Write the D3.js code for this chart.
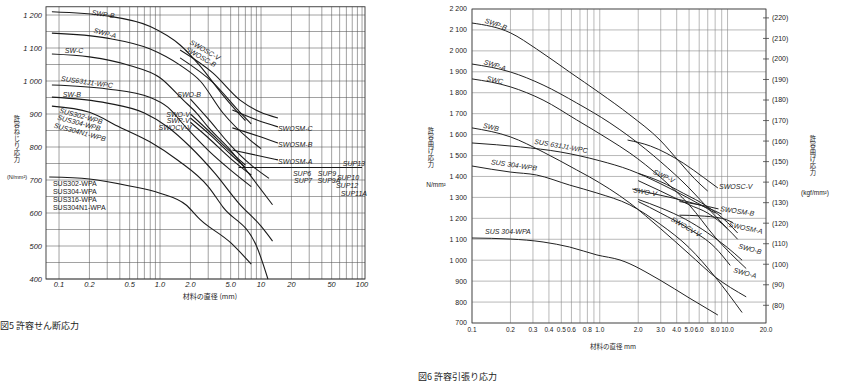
<!DOCTYPE html>
<html>
  <head>
    <meta charset="utf-8">
    <style>
      body { margin: 0; background: #fff; }
      text { font-family: "Liberation Sans", Arial, sans-serif; fill: #222; }
      .jp { font-family: "Noto Sans CJK JP", sans-serif; }
      .vt { font-family: "Noto Sans CJK JP", sans-serif; writing-mode: vertical-rl; letter-spacing: 0.6px; }
      .grid5 line { stroke: #555; stroke-width: 0.55; }
      .grid6 line { stroke: #8a8a8a; stroke-width: 0.6; }
      .curve5 path { fill: none; stroke: #1a1a1a; stroke-width: 1.1; }
      .curve6 path { fill: none; stroke: #222; stroke-width: 1; }
      .lbl { font-style: italic; font-size: 7px; }
    </style>
  </head>
  <body>
    <svg width="843" height="382"></svg>
    <script src="https://d3js.org/d3.v7.min.js"></script>
    <script>
      var svg = d3.select("svg");

      // ---------- 図5 許容せん断応力 (N/mm2 vs diameter mm) ----------
      var shearYTicks = [400, 500, 600, 700, 800, 900, 1000, 1100, 1200];
      var shearYLabels = ["400", "500", "600", "700", "800", "900", "1 000", "1 100", "1 200"];
      var shearXTicks = [0.1, 0.2, 0.5, 1, 2, 5, 10, 20, 50, 100];
      var shearXLabels = ["0.1", "0.2", "0.5", "1.0", "2.0", "5.0", "10", "20", "50", "100"];

      var shearSWPB = [[0.085, 1210], [0.3, 1197], [0.8, 1165], [1.58, 1109], [2.5, 1045], [4, 965], [5.5, 915], [7, 880]];
      var shearSWPA = [[0.085, 1145], [0.3, 1130], [0.8, 1097], [1.58, 1048], [2.5, 1000], [4.2, 903], [7.8, 821], [10, 795]];
      var shearSWC = [[0.085, 1082], [0.2, 1073], [0.5, 1047], [1, 1010], [1.7, 942], [2.3, 903], [3, 860], [5, 790], [8, 710], [13, 625]];
      var shearSUS631 = [[0.085, 988], [0.3, 976], [0.8, 950], [1.2, 920], [1.8, 860], [3, 790], [5, 730], [8, 680]];
      var shearSWB = [[0.085, 951], [0.3, 933], [0.7, 903], [1.2, 860], [2, 800], [3.5, 720], [6, 630], [10, 560], [13, 515]];
      var shearSUSWPB = [[0.085, 924], [0.2, 905], [0.4, 860], [0.8, 815], [1.5, 760], [3, 680], [4.2, 618], [9.1, 497], [11.7, 400]];
      var shearSUSWPA = [[0.08, 709], [0.2, 703], [0.5, 682], [1, 660], [1.8, 625], [2.5, 580], [5, 510], [8, 445]];
      var shearSWOSCV = [[1.58, 1094], [3.35, 1024], [6.2, 942], [9.8, 906], [14.7, 888]];
      var shearSWOSCB = [[1.58, 1070], [3.35, 995], [6.2, 905], [8, 870]];
      var shearSWOSMC = [[5.2, 912], [9.1, 882], [14.7, 861]];
      var shearSWOSMB = [[5.2, 858], [9, 835], [14.7, 812]];
      var shearSWOSMA = [[5.2, 791], [9, 775], [14.7, 761]];
      var shearSWOB = [[2, 945], [3, 885], [5, 805], [8, 745], [12, 705]];
      var shearSWOV = [[2, 900], [3, 850], [5, 785], [7, 745]];
      var shearSWPV = [[2, 888], [3, 842], [5, 778], [7, 738]];
      var shearSWOCVV = [[2, 875], [3, 828], [5, 765], [8, 715]];
      var shearSUP = [[6, 738], [100, 738]];

      var shearSeries = [shearSWPB, shearSWPA, shearSWC, shearSUS631, shearSWB, shearSUSWPB, shearSUSWPA,
        shearSWOSCV, shearSWOSCB, shearSWOSMC, shearSWOSMB, shearSWOSMA, shearSWOB, shearSWOV, shearSWPV,
        shearSWOCVV, shearSUP];

      // label text, diameter, stress, rotation
      var shearLabels = [
        ["SWP-B", 0.273, 1203, 8], ["SWP-A", 0.285, 1145, 15], ["SW-C", 0.141, 1091, 0],
        ["SUS631J1-WPC", 0.189, 997, 8], ["SW-B", 0.134, 958, 0],
        ["SUS302-WPB", 0.165, 894, 15], ["SUS304-WPB", 0.158, 873, 15], ["SUS304N1-WPB", 0.161, 845, 15],
        ["SWOSC-V", 2.79, 1094, 30], ["SWOSC-B", 2.54, 1073, 30], ["SWO-B", 1.94, 958, 0],
        ["SWO-V", 1.51, 897, 0], ["SWP-V", 1.51, 879, 0], ["SWOCV-V", 1.41, 858, 0],
        ["SWOSM-C", 21.8, 855, 0], ["SWOSM-B", 21.8, 806, 0], ["SWOSM-A", 21.8, 755, 0],
        ["SUP6", 25.5, 721, 0], ["SUP7", 26.1, 697, 0], ["SUP9", 45, 721, 0], ["SUP9A", 47, 697, 0],
        ["SUP13", 83, 750, 0], ["SUP10", 72.6, 706, 0], ["SUP12", 71, 682, 0], ["SUP11A", 83, 658, 0]
      ];
      var shearWPALines = ["SUS302-WPA", "SUS304-WPA", "SUS316-WPA", "SUS304N1-WPA"];
      var shearWPAStress = [688, 664, 642, 618];

      var x5 = d3.scaleLog().domain([0.0743, 107]).range([46, 365]);
      var y5 = d3.scaleLinear().domain([400, 1225]).range([279, 6.75]);

      var gridX5 = [];
      [0.1, 1, 10].forEach(function(b) { for (var k = 1; k < 10; k++) gridX5.push(k * b); });
      gridX5.push(100);
      var gridY5 = d3.range(400, 1201, 50);

      var g5 = svg.append("g");
      var grid5 = g5.append("g").attr("class", "grid5");
      grid5.selectAll("line.v").data(gridX5).enter().append("line")
        .attr("x1", function(d) { return x5(d); }).attr("x2", function(d) { return x5(d); })
        .attr("y1", y5(1225)).attr("y2", y5(400));
      grid5.selectAll("line.h").data(gridY5).enter().append("line")
        .attr("x1", x5.range()[0]).attr("x2", x5.range()[1])
        .attr("y1", function(d) { return y5(d); }).attr("y2", function(d) { return y5(d); });
      g5.append("rect")
        .attr("x", 46).attr("y", y5(1225)).attr("width", 319).attr("height", y5(400) - y5(1225))
        .attr("fill", "none").attr("stroke", "#333").attr("stroke-width", 0.9);

      g5.selectAll("text.yt").data(shearYTicks).enter().append("text")
        .attr("x", 42).attr("y", function(d) { return y5(d); }).attr("dy", "0.35em")
        .attr("text-anchor", "end").attr("font-size", 7.5).attr("font-style", "italic")
        .text(function(d, i) { return shearYLabels[i]; });
      g5.selectAll("text.xt").data(shearXTicks).enter().append("text")
        .attr("x", function(d) { return x5(d); }).attr("y", 287)
        .attr("text-anchor", "middle").attr("font-size", 7.5).attr("font-style", "italic")
        .text(function(d, i) { return shearXLabels[i]; });

      var line5 = d3.line()
        .x(function(d) { return x5(d[0]); })
        .y(function(d) { return y5(d[1]); })
        .curve(d3.curveMonotoneX);
      g5.append("g").attr("class", "curve5").selectAll("path").data(shearSeries).enter()
        .append("path").attr("d", line5);

      g5.selectAll("text.lb").data(shearLabels).enter().append("text")
        .attr("class", "lbl")
        .attr("transform", function(d) { return "translate(" + x5(d[1]) + "," + y5(d[2]) + ") rotate(" + d[3] + ")"; })
        .attr("text-anchor", "middle").attr("dy", "0.35em")
        .text(function(d) { return d[0]; });
      g5.selectAll("text.wpa").data(shearWPALines).enter().append("text")
        .attr("x", x5(0.087)).attr("y", function(d, i) { return y5(shearWPAStress[i]); })
        .attr("dy", "0.35em").attr("font-size", 7).text(function(d) { return d; });

      // vertical Japanese titles as one text each
      function vtext(str, x, y0, size) {
        svg.append("text").attr("class", "vt").attr("x", x).attr("y", y0)
          .attr("font-size", size).text(str);
      }

      vtext("許容ねじり応力", 17, 115, 6.3);
      svg.append("text").attr("x", 17).attr("y", 179).attr("text-anchor", "middle")
        .attr("font-size", 5.5).text("(N/mm²)");
      svg.append("text").attr("class", "jp").attr("x", 210).attr("y", 299)
        .attr("text-anchor", "middle").attr("font-size", 7).text("材料の直径 (mm)");
      svg.append("text").attr("class", "jp").attr("x", 0).attr("y", 329)
        .attr("font-size", 9).text("図5 許容せん断応力");

      // ---------- 図6 許容引張り応力 ----------
      var bendYTicks = d3.range(700, 2201, 100);
      var bendYLabels = ["700", "800", "900", "1 000", "1 100", "1 200", "1 300", "1 400", "1 500",
        "1 600", "1 700", "1 800", "1 900", "2 000", "2 100", "2 200"];
      var bendXTicks = [0.1, 0.2, 0.3, 0.4, 0.5, 0.6, 0.8, 1, 2, 3, 4, 5, 6, 8, 10, 20];
      var bendXLabels = ["0.1", "0.2", "0.3", "0.4", "0.5", "0.6", "0.8", "1.0", "2.0", "3.0", "4.0",
        "5.0", "6.0", "8.0", "10.0", "20.0"];
      var kgfTicks = [80, 90, 100, 110, 120, 130, 140, 150, 160, 170, 180, 190, 200, 210, 220];

      var bendSWPB = [[0.1, 2133], [0.2, 2086], [0.32, 2009], [0.58, 1899], [1, 1799], [1.72, 1694], [2.96, 1574], [4.2, 1470], [5.5, 1390], [7, 1330]];
      var bendSWPA = [[0.1, 1937], [0.2, 1899], [0.36, 1837], [0.66, 1751], [1.2, 1656], [1.72, 1589], [3, 1470], [5, 1345], [7.5, 1230], [10, 1150]];
      var bendSWC = [[0.1, 1866], [0.2, 1828], [0.36, 1765], [0.66, 1670], [1.2, 1574], [1.72, 1512], [3, 1395], [5, 1265], [8, 1110], [14, 960]];
      var bendSWB = [[0.1, 1632], [0.2, 1589], [0.36, 1517], [0.66, 1431], [0.83, 1398], [1.72, 1273], [3, 1150], [5, 1030], [8, 920], [14, 825]];
      var bendSUS631 = [[0.1, 1560], [0.24, 1541], [0.49, 1517], [1, 1475], [1.72, 1431], [3, 1365], [5, 1295], [8, 1225]];
      var bendSUSWPB = [[0.1, 1450], [0.2, 1421], [0.32, 1407], [0.58, 1359], [0.95, 1321], [1.72, 1264], [3, 1170], [5, 1060], [8, 920], [13, 750]];
      var bendSUSWPA = [[0.1, 1106], [0.2, 1101], [0.36, 1087], [0.58, 1063], [0.95, 1025], [1.44, 1001], [2.96, 905], [5, 820], [8.4, 738]];
      var bendSWOSCV = [[1.65, 1574], [2.5, 1545], [4.5, 1464], [6.5, 1395], [8.4, 1345]];
      var bendSWPV = [[2, 1415], [3, 1375], [4.5, 1320], [7, 1255], [10, 1180], [12, 1130]];
      var bendSWOV = [[1.8, 1340], [3, 1310], [4.5, 1285], [7, 1250], [9, 1220]];
      var bendSWOCVV = [[2, 1290], [3, 1250], [4.7, 1195], [7, 1130], [10, 1060], [13, 1000]];
      var bendSWOSMB = [[4.2, 1280], [6, 1265], [8.5, 1245]];
      var bendSWOSMA = [[4.2, 1215], [6, 1212], [9, 1200], [11, 1180]];
      var bendSWOB = [[2, 1380], [3, 1330], [5, 1265], [7, 1225], [10, 1150], [12, 1100]];
      var bendSWOA = [[2, 1280], [3, 1225], [5, 1150], [8, 1060], [10.5, 975]];

      var bendSeries = [bendSWPB, bendSWPA, bendSWC, bendSWB, bendSUS631, bendSUSWPB, bendSUSWPA,
        bendSWOSCV, bendSWPV, bendSWOV, bendSWOCVV, bendSWOSMB, bendSWOSMA, bendSWOB, bendSWOA];

      var bendLabels = [
        ["SWP-B", 0.154, 2128, 20], ["SWP-A", 0.151, 1932, 18], ["SWC", 0.151, 1861, 12],
        ["SWB", 0.141, 1636, 12], ["SUS 631J1-WPC", 0.497, 1546, 10], ["SUS 304-WPB", 0.213, 1455, 8],
        ["SUS 304-WPA", 0.191, 1135, 0], ["SWP-V", 3.18, 1402, 25], ["SWO-V", 2.26, 1326, 10],
        ["SWOCV-V", 4.73, 1159, 30], ["SWOSC-V", 11.6, 1354, 0], ["SWOSM-B", 11.9, 1235, 8],
        ["SWOSM-A", 13.9, 1154, 12], ["SWO-B", 15.0, 1054, 15], ["SWO-A", 13.7, 939, 15]
      ];

      var x6 = d3.scaleLog().domain([0.1, 20]).range([472, 766]);
      var y6 = d3.scaleLinear().domain([700, 2200]).range([323, 9]);

      var gridX6 = [];
      [0.1, 1].forEach(function(b) { for (var k = 1; k < 10; k++) gridX6.push(k * b); });
      gridX6.push(10, 20);

      var g6 = svg.append("g");
      var grid6 = g6.append("g").attr("class", "grid6");
      grid6.selectAll("line.v").data(gridX6).enter().append("line")
        .attr("x1", function(d) { return x6(d); }).attr("x2", function(d) { return x6(d); })
        .attr("y1", y6(2200)).attr("y2", y6(700));
      grid6.selectAll("line.h").data(bendYTicks).enter().append("line")
        .attr("x1", 472).attr("x2", 766)
        .attr("y1", function(d) { return y6(d); }).attr("y2", function(d) { return y6(d); });
      g6.append("rect")
        .attr("x", 472).attr("y", y6(2200)).attr("width", 294).attr("height", y6(700) - y6(2200))
        .attr("fill", "none").attr("stroke", "#444").attr("stroke-width", 0.8);

      g6.selectAll("text.yt").data(bendYTicks).enter().append("text")
        .attr("x", 467).attr("y", function(d) { return y6(d); }).attr("dy", "0.35em")
        .attr("text-anchor", "end").attr("font-size", 7)
        .text(function(d, i) { return bendYLabels[i]; });
      g6.selectAll("text.xt").data(bendXTicks).enter().append("text")
        .attr("x", function(d) { return x6(d); }).attr("y", 332)
        .attr("text-anchor", "middle").attr("font-size", 6.5)
        .text(function(d, i) { return bendXLabels[i]; });

      g6.selectAll("line.kt").data(kgfTicks).enter().append("line")
        .attr("x1", 763).attr("x2", 769)
        .attr("y1", function(d) { return y6(d * 9.80665); }).attr("y2", function(d) { return y6(d * 9.80665); })
        .attr("stroke", "#444").attr("stroke-width", 0.8);
      g6.selectAll("text.kt").data(kgfTicks).enter().append("text")
        .attr("x", 772).attr("y", function(d) { return y6(d * 9.80665); }).attr("dy", "0.35em")
        .attr("font-size", 7).text(function(d) { return "(" + d + ")"; });

      var line6 = d3.line()
        .x(function(d) { return x6(d[0]); })
        .y(function(d) { return y6(d[1]); })
        .curve(d3.curveMonotoneX);
      g6.append("g").attr("class", "curve6").selectAll("path").data(bendSeries).enter()
        .append("path").attr("d", line6);

      g6.selectAll("text.lb").data(bendLabels).enter().append("text")
        .attr("class", "lbl")
        .attr("transform", function(d) { return "translate(" + x6(d[1]) + "," + y6(d[2]) + ") rotate(" + d[3] + ")"; })
        .attr("text-anchor", "middle").attr("dy", "0.35em")
        .text(function(d) { return d[0]; });

      vtext("許容曲げ応力", 431, 127, 6.3);
      svg.append("text").attr("x", 436).attr("y", 187).attr("text-anchor", "middle")
        .attr("font-size", 6.5).text("N/mm²");
      vtext("許容曲げ応力", 813, 135, 6.3);
      svg.append("text").attr("x", 815).attr("y", 195).attr("text-anchor", "middle")
        .attr("font-size", 6.5).text("(kgf/mm²)");
      svg.append("text").attr("class", "jp").attr("x", 613).attr("y", 349)
        .attr("text-anchor", "middle").attr("font-size", 6.5).text("材料の直径 mm");
      svg.append("text").attr("class", "jp").attr("x", 418).attr("y", 380)
        .attr("font-size", 9).text("図6 許容引張り応力");
    </script>
  </body>
</html>
